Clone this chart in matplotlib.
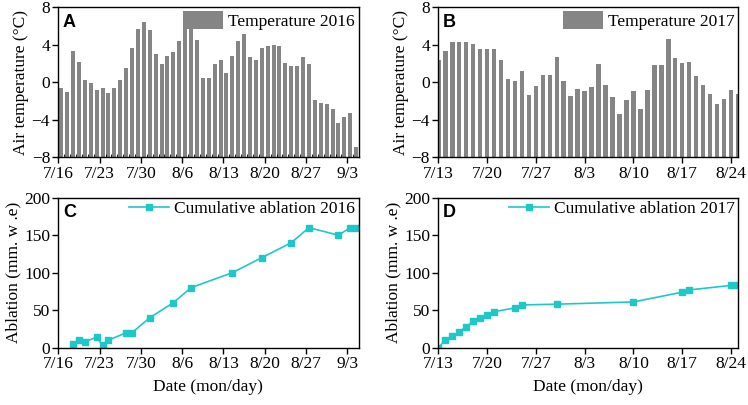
import matplotlib.pyplot as plt
import numpy as np

plt.rcParams['font.family'] = ['Liberation Serif', 'DejaVu Serif']
plt.rcParams['font.size'] = 12.5

# daily mean air temperature (deg C)
temp_2016 = [-0.6, -1.0, 3.3, 2.2, 0.2, -0.1, -0.8, -0.6, -1.1, -0.6, 0.2, 1.5,
             3.7, 5.7, 6.4, 5.6, 3.0, 2.0, 2.8, 3.2, 4.4, 6.5, 6.3, 4.5, 0.5,
             0.5, 1.9, 2.4, 1.0, 2.8, 4.4, 5.2, 2.7, 2.4, 3.7, 3.9, 4.0, 3.9,
             2.1, 1.7, 1.7, 2.7, 2.0, -1.9, -2.2, -2.3, -2.8, -4.3, -3.7, -3.3,
             -6.9]
temp_2017 = [2.4, 3.3, 4.3, 4.3, 4.3, 4.1, 3.6, 3.6, 3.5, 2.4, 0.3, 0.1, 1.2,
             -1.4, -0.4, 0.8, 0.8, 2.7, 0.1, -1.5, -0.7, -0.9, -0.5, 2.0, -0.3,
             -1.6, -3.4, -1.9, -0.9, -2.9, -0.8, 1.8, 1.8, 4.6, 2.6, 2.1, 2.2,
             0.7, -0.3, -1.3, -2.3, -1.8, -0.8, -1.3]

# cumulative ablation (mm w.e.), day offsets from the first date
abl16_days = [2.5, 3.5, 4.5, 6.5, 7.5, 8.5, 11.5, 12.5, 15.5, 19.5, 22.5,
              29.5, 34.5, 39.5, 42.5, 47.5, 49.5, 50.5]
abl16 = [5, 10, 8, 14, 3, 10, 20, 20, 40, 60, 80, 100, 120, 140, 160, 150,
         160, 160]
abl17_days = [0, 1, 2, 3, 4, 5, 6, 7, 8, 11, 12, 17, 28, 35, 36, 42, 43]
abl17 = [0, 10, 15, 21, 28, 35, 40, 44, 48, 53, 57, 58, 61, 74, 77, 83, 83]

ticks16 = ['7/16', '7/23', '7/30', '8/6', '8/13', '8/20', '8/27', '9/3']
ticks17 = ['7/13', '7/20', '7/27', '8/3', '8/10', '8/17', '8/24']

bar_col = '#858585'
line_col = '#1ec8c8'

fig = plt.figure(figsize=(7.48, 4.05), dpi=100)
axA = fig.add_axes([0.078, 0.6116, 0.4013, 0.3704])
axB = fig.add_axes([0.586, 0.6116, 0.401, 0.3704])
axC = fig.add_axes([0.078, 0.1415, 0.4013, 0.3704])
axD = fig.add_axes([0.586, 0.1415, 0.401, 0.3704])

x16 = np.arange(len(temp_2016)) + 0.5
axA.bar(x16, np.array(temp_2016) + 8, bottom=-8, width=0.68, color=bar_col,
        label='Temperature 2016')
x17 = np.arange(len(temp_2017))
axB.bar(x17, np.array(temp_2017) + 8, bottom=-8, width=0.65, color=bar_col,
        label='Temperature 2017')

axC.plot(abl16_days, abl16, '-s', color=line_col, lw=1.2, ms=4,
         label='Cumulative ablation 2016')
axD.plot(abl17_days, abl17, '-s', color=line_col, lw=1.2, ms=4,
         label='Cumulative ablation 2017')

for ax in (axA, axB):
    ax.set_ylim(-8, 8)
    ax.set_yticks([-8, -4, 0, 4, 8])
    ax.set_ylabel('Air temperature (\u00b0C)', labelpad=2)
for ax in (axC, axD):
    ax.set_ylim(0, 200)
    ax.set_yticks([0, 50, 100, 150, 200])
    ax.set_ylabel('Ablation (mm. w .e)', labelpad=2)
    ax.set_xlabel('Date (mon/day)', labelpad=5)

for ax in (axA, axC):
    ax.set_xlim(0, 50.9)
    ax.set_xticks(np.arange(len(ticks16)) * 7)
    ax.set_xticklabels(ticks16)
for ax in (axB, axD):
    ax.set_xlim(0, 43.05)
    ax.set_xticks(np.arange(len(ticks17)) * 7)
    ax.set_xticklabels(ticks17)

axA.set_xticks(np.arange(0, 51), minor=True)
axA.tick_params(axis='x', which='minor', direction='in', length=2, width=0.6)

for ax, lab in zip((axA, axB, axC, axD), 'ABCD'):
    ax.tick_params(which='major', direction='out', length=4, width=1, pad=2)
    for s in ax.spines.values():
        s.set_linewidth(1)
    ax.text(0.015, 0.955, lab, transform=ax.transAxes, ha='left', va='top',
            family='Liberation Sans', fontweight='bold', fontsize=13)
    if ax in (axA, axB):
        ax.legend(loc='upper right', frameon=False, borderaxespad=0.1,
                  borderpad=0.1, handlelength=2.3, handleheight=1.2,
                  handletextpad=0.3, fontsize=12.5)
    else:
        ax.legend(loc='upper right', frameon=False, borderaxespad=0.1,
                  borderpad=0.1, handlelength=2.3, handletextpad=0.3,
                  fontsize=12.5)

plt.savefig('out.png', dpi=100)
